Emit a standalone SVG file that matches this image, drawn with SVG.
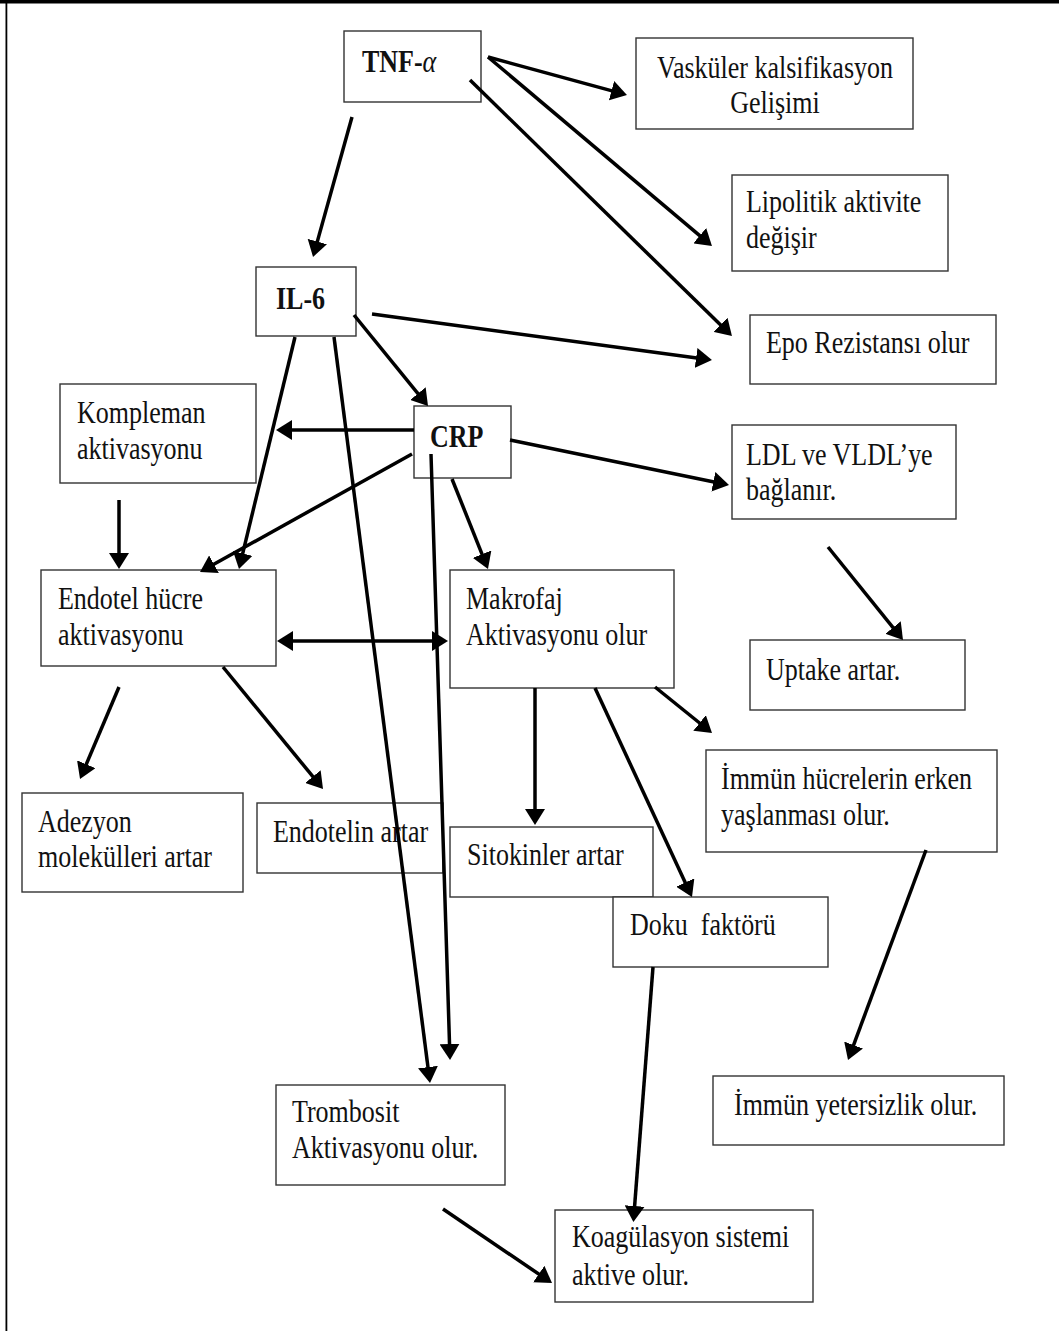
<svg xmlns="http://www.w3.org/2000/svg" width="1059" height="1331" viewBox="0 0 1059 1331">
<style>
.box{fill:#fff;stroke:#333;stroke-width:1.4}
.t{font-family:"Liberation Serif","Times New Roman",serif;font-size:26px;fill:#111}
.b{font-weight:bold}
.c{text-anchor:middle}
.ln{fill:none;stroke:#000;stroke-width:3.5;marker-end:url(#ah)}
</style>
<defs>
<marker id="ah" markerUnits="userSpaceOnUse" markerWidth="16" markerHeight="20" viewBox="0 0 16 20" refX="12" refY="10" orient="auto-start-reverse">
<path d="M0,0 L16,10 L0,20 Z" fill="#000"/>
</marker>
</defs>
<rect x="0" y="0" width="1059" height="1331" fill="#fff"/>
<rect x="0" y="0" width="1059" height="3.5" fill="#000"/>
<rect x="5.5" y="0" width="1.8" height="1331" fill="#000"/>

<g id="tnf"><rect class="box" x="344" y="31" width="137" height="71"/>
<text class="t b" transform="translate(362,72) scale(1,1.23)">TNF-<tspan font-style="italic" font-weight="normal">α</tspan></text></g>
<g id="vaskuler"><rect class="box" x="636" y="38" width="277" height="91"/>
<text class="t c" transform="translate(775,78) scale(1,1.23)">Vasküler kalsifikasyon</text>
<text class="t c" transform="translate(775,113) scale(1,1.23)">Gelişimi</text></g>
<g id="lipolitik"><rect class="box" x="732" y="175" width="216" height="96"/>
<text class="t" transform="translate(746,212) scale(1,1.23)">Lipolitik aktivite</text>
<text class="t" transform="translate(746,248) scale(1,1.23)">değişir</text></g>
<g id="il6"><rect class="box" x="256" y="267" width="100" height="69"/>
<text class="t b" transform="translate(276,309) scale(1,1.23)">IL-6</text></g>
<g id="epo"><rect class="box" x="750" y="315" width="246" height="69"/>
<text class="t" transform="translate(766,353) scale(1,1.23)">Epo Rezistansı olur</text></g>
<g id="kompleman"><rect class="box" x="60" y="384" width="196" height="99"/>
<text class="t" transform="translate(77,423) scale(1,1.23)">Kompleman</text>
<text class="t" transform="translate(77,459) scale(1,1.23)">aktivasyonu</text></g>
<g id="crp"><rect class="box" x="414" y="406" width="97" height="72"/>
<text class="t b" transform="translate(430,447) scale(1,1.23)">CRP</text></g>
<g id="ldl"><rect class="box" x="732" y="425" width="224" height="94"/>
<text class="t" transform="translate(746,465) scale(1,1.23)">LDL ve VLDL’ye</text>
<text class="t" transform="translate(746,500) scale(1,1.23)">bağlanır.</text></g>
<g id="endotel"><rect class="box" x="41" y="570" width="235" height="96"/>
<text class="t" transform="translate(58,609) scale(1,1.23)">Endotel hücre</text>
<text class="t" transform="translate(58,645) scale(1,1.23)">aktivasyonu</text></g>
<g id="makrofaj"><rect class="box" x="450" y="570" width="224" height="118"/>
<text class="t" transform="translate(466,609) scale(1,1.23)">Makrofaj</text>
<text class="t" transform="translate(466,645) scale(1,1.23)">Aktivasyonu olur</text></g>
<g id="uptake"><rect class="box" x="750" y="640" width="215" height="70"/>
<text class="t" transform="translate(766,680) scale(1,1.23)">Uptake artar.</text></g>
<g id="immun-hucre"><rect class="box" x="706" y="750" width="291" height="102"/>
<text class="t" transform="translate(721,789) scale(1,1.23)">İmmün hücrelerin erken</text>
<text class="t" transform="translate(721,825) scale(1,1.23)">yaşlanması olur.</text></g>
<g id="adezyon"><rect class="box" x="22" y="793" width="221" height="99"/>
<text class="t" transform="translate(38,832) scale(1,1.23)">Adezyon</text>
<text class="t" transform="translate(38,867) scale(1,1.23)">molekülleri artar</text></g>
<g id="endotelin"><rect class="box" x="257" y="803" width="186" height="70"/>
<text class="t" transform="translate(273,842) scale(1,1.23)">Endotelin artar</text></g>
<g id="sitokinler"><rect class="box" x="450" y="827" width="203" height="70"/>
<text class="t" transform="translate(467,865) scale(1,1.23)">Sitokinler artar</text></g>
<g id="doku"><rect class="box" x="613" y="897" width="215" height="70"/>
<text class="t" xml:space="preserve" transform="translate(630,935) scale(1,1.23)">Doku  faktörü</text></g>
<g id="trombosit"><rect class="box" x="276" y="1085" width="229" height="100"/>
<text class="t" transform="translate(292,1122) scale(1,1.23)">Trombosit</text>
<text class="t" transform="translate(292,1158) scale(1,1.23)">Aktivasyonu olur.</text></g>
<g id="immun-yetersizlik"><rect class="box" x="713" y="1076" width="291" height="69"/>
<text class="t" transform="translate(734,1115) scale(1,1.23)">İmmün yetersizlik olur.</text></g>
<g id="koagulasyon"><rect class="box" x="555" y="1210" width="258" height="92"/>
<text class="t" transform="translate(572,1247) scale(1,1.23)">Koagülasyon sistemi</text>
<text class="t" transform="translate(572,1285) scale(1,1.23)">aktive olur.</text></g>

<g id="connectors">
<path class="ln" d="M352,117 L314.1,253.1"/>
<path class="ln" d="M488,57 L623.1,93.9"/>
<path class="ln" d="M488,57 L708.9,243.4"/>
<path class="ln" d="M470,80 L729.1,333.2"/>
<path class="ln" d="M372,314 L708,359.5"/>
<path class="ln" d="M354,315 L425.5,402.9"/>
<path class="ln" d="M295,337 L239.9,565.1"/>
<path class="ln" d="M334,337 L429.5,1079"/>
<path class="ln" d="M414,430 L280,430"/>
<path class="ln" d="M412,454 L203.5,570"/>
<path class="ln" d="M431,454 L449.9,1056"/>
<path class="ln" d="M452,479 L486.5,565.3"/>
<path class="ln" d="M510,440 L725.1,484.2"/>
<path class="ln" d="M828,547 L900.5,636.9"/>
<path class="ln" d="M119,500 L119,565"/>
<path class="ln" d="M281,641 L444,641" marker-start="url(#ah)"/>
<path class="ln" d="M119,687 L81.6,775.3"/>
<path class="ln" d="M223,667 L320.5,785.9"/>
<path class="ln" d="M655,687 L708.9,730.5"/>
<path class="ln" d="M535,688 L535,821"/>
<path class="ln" d="M595,688 L690.3,893.4"/>
<path class="ln" d="M926,850 L849.4,1056.3"/>
<path class="ln" d="M653,967 L633.7,1218"/>
<path class="ln" d="M443,1209 L548.7,1280.8"/>
</g>
</svg>
